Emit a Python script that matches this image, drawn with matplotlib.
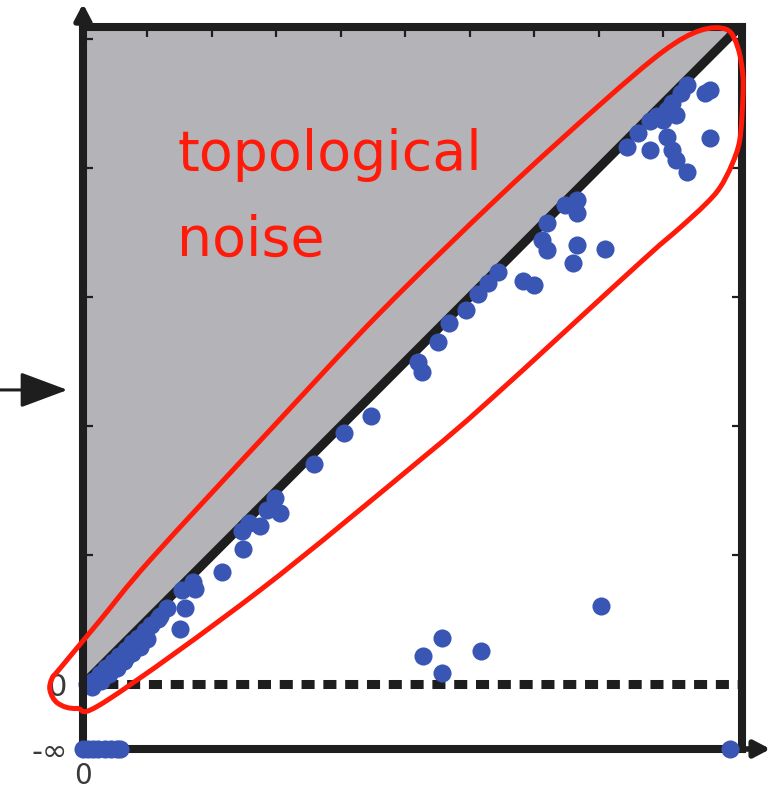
import numpy as np
import matplotlib
matplotlib.use("Agg")
import matplotlib.pyplot as plt
from matplotlib.path import Path
from matplotlib.patches import PathPatch
from matplotlib.ticker import FixedLocator

plt.rcParams['font.family'] = ['DejaVu Sans']
plt.rcParams['lines.scale_dashes'] = False

# ---- persistence diagram data (birth, death) ----
near_origin_birth = [0.03, 0.08, 0.13, 0.18, 0.23, 0.28, 0.33, 0.38, 0.43, 0.48, 0.53, 0.60,
                     0.07, 0.14, 0.20, 0.26, 0.32, 0.38, 0.44, 0.50, 0.21, 0.33]
near_origin_death = [0.00, 0.03, 0.08, 0.13, 0.17, 0.22, 0.27, 0.32, 0.36, 0.41, 0.46, 0.53,
                     -0.02, 0.03, 0.08, 0.13, 0.18, 0.24, 0.29, 0.35, 0.12, 0.21]

mid_birth = [0.58, 0.65, 0.75, 0.79, 0.77, 0.85, 0.87, 1.08, 1.24, 1.23, 1.29, 1.37, 1.43,
             1.53, 1.49, 1.79, 2.02, 2.23, 2.63, 2.60, 2.75, 2.84, 2.97, 3.06, 3.14, 3.22,
             3.50, 3.41, 3.80, 4.05, 3.83, 3.60, 3.56, 3.60, 3.83, 3.74, 3.83]
mid_death = [0.51, 0.59, 0.43, 0.59, 0.73, 0.79, 0.74, 0.87, 1.05, 1.19, 1.25, 1.23, 1.35,
             1.33, 1.44, 1.71, 1.95, 2.08, 2.42, 2.50, 2.65, 2.80, 2.90, 3.02, 3.11, 3.19,
             3.09, 3.12, 3.26, 3.37, 3.40, 3.36, 3.44, 3.57, 3.65, 3.71, 3.75]

top_birth = [4.22, 4.30, 4.40, 4.45, 4.53, 4.57, 4.64, 4.68, 4.82, 4.86, 4.40, 4.53, 4.57,
             4.60, 4.68, 4.86, 4.60, 4.50]
top_death = [4.16, 4.27, 4.36, 4.40, 4.45, 4.50, 4.58, 4.64, 4.58, 4.60, 4.14, 4.24, 4.14,
             4.06, 3.97, 4.23, 4.41, 4.37]

feature_birth = [2.64, 2.78, 2.78, 3.09, 4.02]
feature_death = [0.22, 0.36, 0.09, 0.26, 0.61]

# essential classes (death = -inf)
essential_birth = [0.00, 0.04, 0.08, 0.12, 0.17, 0.22, 0.26, 0.29, 5.02]

# outline of the "topological noise" region
noise_outline_x = [-0.256, -0.240, -0.178, 0.132, 0.519, 1.450, 2.302, 3.233, 4.008, 4.496,
                   4.783, 4.992, 5.078, 5.116, 5.116, 5.093, 5.031, 4.938,
                   4.822, 4.628, 4.318, 3.155, 2.612, 1.372, 0.186, -0.047, -0.194]
noise_outline_y = [-0.047, 0.047, 0.124, 0.496, 0.961, 1.969, 2.876, 3.783, 4.488, 4.899,
                   5.062, 5.070, 4.930, 4.721, 4.527, 4.217, 4.023, 3.845,
                   3.713, 3.535, 3.264, 2.202, 1.736, 0.729, -0.124, -0.186, -0.147]

X_MAX = 5.11
Y_MAX = 5.09
NEG_INF_ROW = -0.50

INK = '#1e1e1e'
DOT = '#3a56b4'
GREY = '#b4b4b8'
RED = '#ff1a0a'
LABEL = '#3a3a3a'

fig = plt.figure(figsize=(7.83, 7.90), dpi=100)
ax = fig.add_axes([83 / 783, 41 / 790, 659 / 783, 722 / 790])
ax.set_xlim(0, X_MAX)
ax.set_ylim(NEG_INF_ROW, Y_MAX)

# region above the diagonal
xs = np.linspace(0, X_MAX, 200)
ax.fill_between(xs, xs, Y_MAX + 1, color=GREY, lw=0, zorder=1)

# diagonal and the zero line
ax.plot([0, X_MAX + 0.2], [0, X_MAX + 0.2], color=INK, lw=6.5, solid_capstyle='butt', zorder=2)
ax.plot([0, X_MAX], [0, 0], color=INK, lw=6.5, dashes=(9.4, 6.3), dash_capstyle='butt', zorder=2)

# points
all_birth = near_origin_birth + mid_birth + top_birth + feature_birth
all_death = near_origin_death + mid_death + top_death + feature_death
ax.scatter(all_birth, all_death, s=170, color=DOT, linewidths=0, zorder=4, clip_on=False)
ax.scatter(essential_birth, [NEG_INF_ROW] * len(essential_birth), s=170, color=DOT,
           linewidths=0, zorder=6, clip_on=False)

# spines
for side in ['left', 'right', 'top', 'bottom']:
    ax.spines[side].set_linewidth(5.8)
    ax.spines[side].set_color(INK)
    ax.spines[side].set_zorder(5)

# ticks and labels
ax.set_xticks([0])
ax.set_xticklabels(['0'], fontsize=20)
ax.set_yticks([NEG_INF_ROW, 0])
ax.set_yticklabels(['-∞', '0'], fontsize=22)
ax.tick_params(which='major', length=0, labelcolor=LABEL, pad=9)
ax.tick_params(axis='y', which='major', pad=11)
ax.xaxis.set_minor_locator(FixedLocator(np.arange(0.5, 5.01, 0.5)))
ax.yaxis.set_minor_locator(FixedLocator([1, 2, 3, 4, 5]))
ax.tick_params(which='minor', direction='in', length=7, width=1.6, color=INK,
               left=True, right=True, top=True, bottom=False)

# axis arrows
ax.annotate('', xy=(0, 5.27), xytext=(0, Y_MAX - 0.05), annotation_clip=False,
            arrowprops=dict(arrowstyle='-|>,head_length=0.95,head_width=0.5',
                            mutation_scale=10, lw=4, color=INK, shrinkA=0, shrinkB=0))
ax.annotate('', xy=(5.33, NEG_INF_ROW), xytext=(X_MAX - 0.05, NEG_INF_ROW),
            annotation_clip=False,
            arrowprops=dict(arrowstyle='-|>,head_length=0.95,head_width=0.5',
                            mutation_scale=10, lw=4, color=INK, shrinkA=0, shrinkB=0))

# pointer on the left
ax.annotate('', xy=(-0.12, 2.28), xytext=(-0.66, 2.28), annotation_clip=False,
            arrowprops=dict(arrowstyle='-|>,head_length=2.95,head_width=1.1',
                            mutation_scale=10, lw=2.2, color=INK, shrinkA=0, shrinkB=0))

# smooth closed outline (Catmull-Rom through the outline points)
pts = np.column_stack([noise_outline_x, noise_outline_y])
n = len(pts)
verts = [pts[0]]
codes = [Path.MOVETO]
for i in range(n):
    p0, p1, p2, p3 = pts[(i - 1) % n], pts[i], pts[(i + 1) % n], pts[(i + 2) % n]
    c1 = p1 + (p2 - p0) / 6.0
    c2 = p2 - (p3 - p1) / 6.0
    verts += [c1, c2, p2]
    codes += [Path.CURVE4] * 3
outline = PathPatch(Path(verts, codes), facecolor='none', edgecolor=RED, lw=3.6,
                    zorder=7, clip_on=False)
ax.add_patch(outline)

ax.text(0.73, 3.98, 'topological', color=RED, fontsize=40, ha='left', va='baseline', zorder=8)
ax.text(0.73, 3.32, 'noise', color=RED, fontsize=40, ha='left', va='baseline', zorder=8)

fig.savefig('out.png', dpi=100)
